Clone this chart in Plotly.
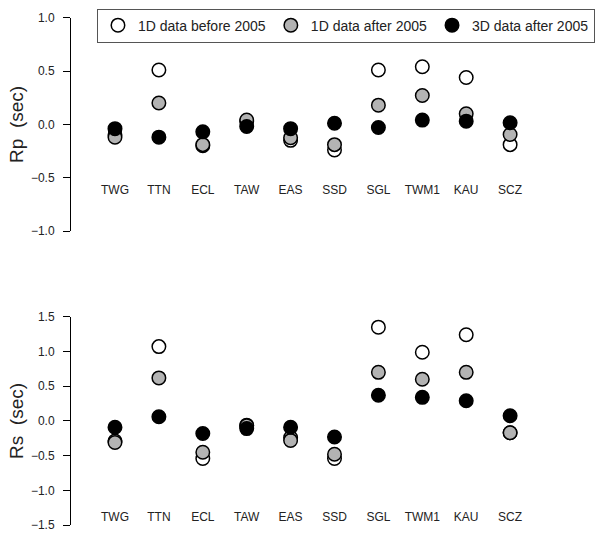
import plotly.graph_objects as go

categories = ["TWG", "TTN", "ECL", "TAW", "EAS", "SSD", "SGL", "TWM1", "KAU", "SCZ"]

rp_1d_before = [-0.10, 0.51, -0.20, 0.03, -0.15, -0.24, 0.51, 0.54, 0.44, -0.19]
rp_1d_after = [-0.12, 0.20, -0.19, 0.04, -0.125, -0.19, 0.18, 0.27, 0.10, -0.095]
rp_3d_after = [-0.04, -0.12, -0.07, -0.02, -0.04, 0.01, -0.03, 0.04, 0.03, 0.015]

rs_1d_before = [-0.29, 1.07, -0.54, -0.06, -0.24, -0.54, 1.35, 0.99, 1.24, -0.17]
rs_1d_after = [-0.31, 0.62, -0.45, -0.07, -0.28, -0.48, 0.70, 0.60, 0.70, -0.17]
rs_3d_after = [-0.09, 0.06, -0.18, -0.11, -0.09, -0.23, 0.37, 0.34, 0.29, 0.075]

series_names = ["1D data before 2005", "1D data after 2005", "3D data after 2005"]
series_fill = ["white", "#b3b3b3", "black"]

rp_ticks = [-1.0, -0.5, 0.0, 0.5, 1.0]
rs_ticks = [-1.5, -1.0, -0.5, 0.0, 0.5, 1.0, 1.5]
rp_label_y = -0.625
rs_label_y = -1.40

FONT = "Liberation Sans, Arial, sans-serif"
TXT = "#222222"

fig = go.Figure()

for i, (vals_p, vals_s) in enumerate([(rp_1d_before, rs_1d_before),
                                      (rp_1d_after, rs_1d_after),
                                      (rp_3d_after, rs_3d_after)]):
    mk = dict(size=13.5, color=series_fill[i], line=dict(color="black", width=1.5))
    fig.add_trace(go.Scatter(x=categories, y=vals_p, mode="markers", marker=mk,
                             name=series_names[i], xaxis="x", yaxis="y",
                             legendgroup=series_names[i]))
    fig.add_trace(go.Scatter(x=categories, y=vals_s, mode="markers", marker=mk,
                             name=series_names[i], xaxis="x2", yaxis="y2",
                             legendgroup=series_names[i], showlegend=False))

# station labels drawn inside each panel
fig.add_trace(go.Scatter(x=categories, y=[rp_label_y] * len(categories), mode="text",
                         text=categories, textfont=dict(size=12, color=TXT, family=FONT),
                         xaxis="x", yaxis="y", showlegend=False, hoverinfo="skip"))
fig.add_trace(go.Scatter(x=categories, y=[rs_label_y] * len(categories), mode="text",
                         text=categories, textfont=dict(size=12, color=TXT, family=FONT),
                         xaxis="x2", yaxis="y2", showlegend=False, hoverinfo="skip"))

xr = [-1.002, 11.298]
yax = dict(showline=True, linecolor="black", linewidth=1, ticks="outside", ticklen=7,
           tickcolor="black", tickwidth=1, showgrid=False, zeroline=False,
           tickfont=dict(size=12, color=TXT, family=FONT), tickformat=".1f",
           ticklabelstandoff=6)

fig.update_layout(
    width=611, height=539,
    margin=dict(l=71, r=0, t=0, b=0),
    plot_bgcolor="white", paper_bgcolor="white",
    font=dict(family=FONT, color=TXT),
    xaxis=dict(domain=[0, 1], range=xr, visible=False, anchor="y",
               type="category", categoryorder="array", categoryarray=categories),
    xaxis2=dict(domain=[0, 1], range=xr, visible=False, anchor="y2",
                type="category", categoryorder="array", categoryarray=categories),
    yaxis=dict(domain=[0.5733, 0.9796], range=[-1.0, 1.0], tickvals=rp_ticks,
               title=dict(text="Rp  (sec)", font=dict(size=19, color=TXT, family=FONT), standoff=2),
               anchor="x", **yax),
    yaxis2=dict(domain=[0.013, 0.41], range=[-1.5, 1.5], tickvals=rs_ticks,
                title=dict(text="Rs  (sec)", font=dict(size=19, color=TXT, family=FONT), standoff=2),
                anchor="x2", **yax),
    legend=dict(orientation="h", x=0.0481, xanchor="left", y=0.997, yanchor="top",
                bordercolor="#555555", borderwidth=1, bgcolor="white",
                font=dict(size=14, color=TXT, family=FONT), traceorder="normal"),
)

fig.write_html("out.html", config={"displayModeBar": False},
               post_script="document.body.style.margin='0px';")
